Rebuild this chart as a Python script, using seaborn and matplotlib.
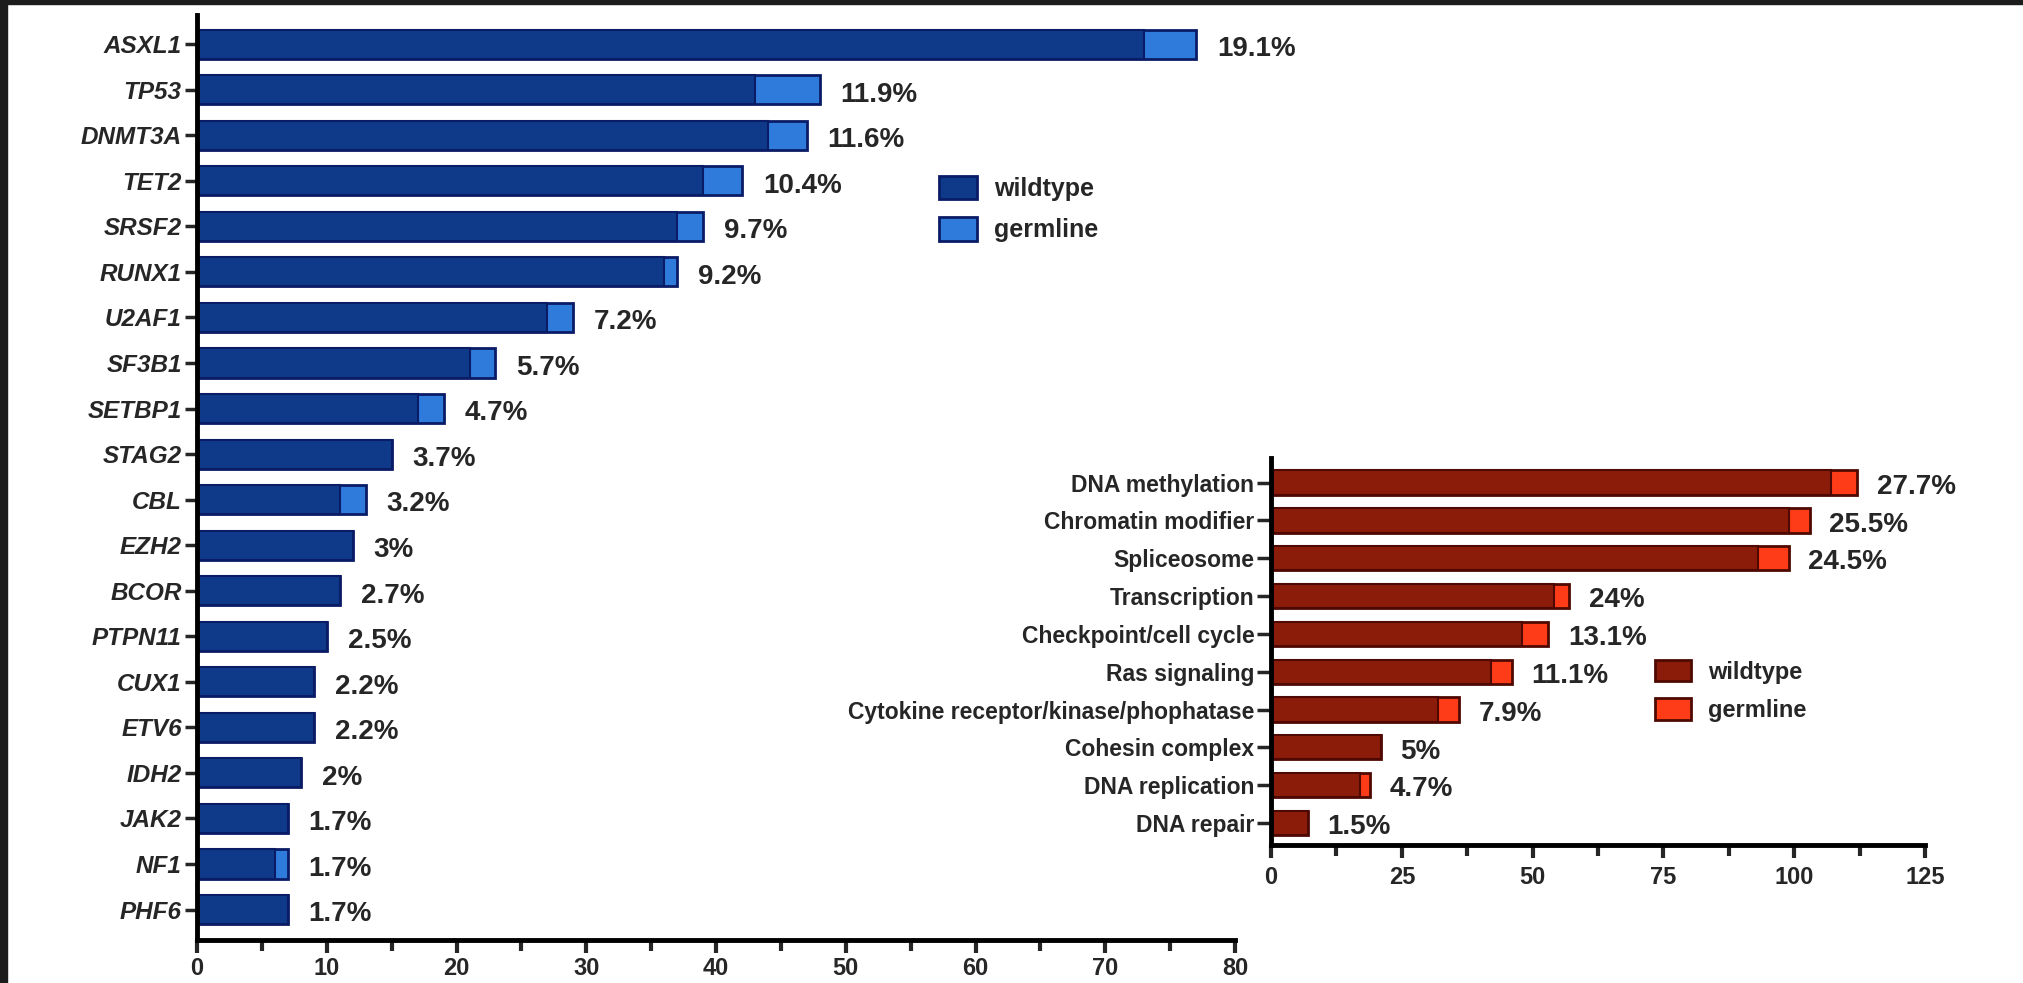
import pandas as pd
import matplotlib.pyplot as plt
import seaborn as sns
from matplotlib.patches import Patch, Rectangle
from matplotlib.ticker import MultipleLocator

sns.set_style("ticks")
plt.rcParams['font.family'] = ['Liberation Sans', 'DejaVu Sans']
plt.rcParams['font.weight'] = 'bold'

# ===== data: genes =====
genes = ['ASXL1', 'TP53', 'DNMT3A', 'TET2', 'SRSF2', 'RUNX1', 'U2AF1', 'SF3B1', 'SETBP1', 'STAG2',
         'CBL', 'EZH2', 'BCOR', 'PTPN11', 'CUX1', 'ETV6', 'IDH2', 'JAK2', 'NF1', 'PHF6']
gene_wild = [73, 43, 44, 39, 37, 36, 27, 21, 17, 15, 11, 12, 11, 10, 9, 9, 8, 7, 6, 7]
gene_germ = [4, 5, 3, 3, 2, 1, 2, 2, 2, 0, 2, 0, 0, 0, 0, 0, 0, 0, 1, 0]
gene_pct = ['19.1%', '11.9%', '11.6%', '10.4%', '9.7%', '9.2%', '7.2%', '5.7%', '4.7%', '3.7%',
            '3.2%', '3%', '2.7%', '2.5%', '2.2%', '2.2%', '2%', '1.7%', '1.7%', '1.7%']

# ===== data: pathways =====
pathways = ['DNA methylation', 'Chromatin modifier', 'Spliceosome', 'Transcription',
            'Checkpoint/cell cycle', 'Ras signaling', 'Cytokine receptor/kinase/phophatase',
            'Cohesin complex', 'DNA replication', 'DNA repair']
path_wild = [107, 99, 93, 54, 48, 42, 32, 21, 17, 7]
path_germ = [5, 4, 6, 3, 5, 4, 4, 0, 2, 0]
path_pct = ['27.7%', '25.5%', '24.5%', '24%', '13.1%', '11.1%', '7.9%', '5%', '4.7%', '1.5%']

BLUE_WT, BLUE_GL, BLUE_EDGE = '#0f3a8a', '#2f7bdc', '#0a1c66'
RED_WT, RED_GL, RED_EDGE = '#8c1c0a', '#ff3c18', '#4e0a02'

df_gene = pd.DataFrame({'gene': genes, 'wild': gene_wild,
                        'total': [w + g for w, g in zip(gene_wild, gene_germ)]})
df_path = pd.DataFrame({'path': pathways, 'wild': path_wild,
                        'total': [w + g for w, g in zip(path_wild, path_germ)]})

fig = plt.figure(figsize=(20.23, 9.83), dpi=100)
ax1 = fig.add_axes([0.0974, 0.0437, 0.5131, 0.941])
ax2 = fig.add_axes([0.6283, 0.1404, 0.3233, 0.3937])


def stacked(ax, df, cat, wt, gl, edge):
    sns.barplot(data=df, x='total', y=cat, color=gl, saturation=1, edgecolor=edge,
                linewidth=2, width=0.64, ax=ax)
    sns.barplot(data=df, x='wild', y=cat, color=wt, saturation=1, edgecolor=edge,
                linewidth=1.5, width=0.64, ax=ax)
    ax.set(xlabel='', ylabel='')
    sns.despine(ax=ax)
    for s in ('left', 'bottom'):
        ax.spines[s].set_linewidth(3.5)
        ax.spines[s].set_color('black')


# ===== 1. gene panel =====
stacked(ax1, df_gene, 'gene', BLUE_WT, BLUE_GL, BLUE_EDGE)
ax1.set_xlim(0, 80)
ax1.set_ylim(19.67, -0.64)
ax1.set_xticks(range(0, 81, 10))
ax1.xaxis.set_minor_locator(MultipleLocator(5))
ax1.tick_params(axis='x', which='major', length=9, width=3, pad=3, labelsize=17)
ax1.tick_params(axis='x', which='minor', length=8, width=3)
ax1.tick_params(axis='y', length=9, width=2.5, pad=2)
for lab in ax1.get_yticklabels():
    lab.set_fontsize(17.5)
    lab.set_fontstyle('italic')
    lab.set_fontweight('bold')
for i, (t, p) in enumerate(zip(df_gene['total'], gene_pct)):
    ax1.annotate(p, xy=(t, i), xytext=(15, -3.5), textcoords='offset points',
                 va='center', ha='left', fontsize=20, fontweight='bold')

# ===== 2. pathway panel =====
stacked(ax2, df_path, 'path', RED_WT, RED_GL, RED_EDGE)
ax2.set_xlim(0, 125)
ax2.set_ylim(9.58, -0.65)
ax2.set_xticks(range(0, 126, 25))
ax2.xaxis.set_minor_locator(MultipleLocator(12.5))
ax2.tick_params(axis='x', which='major', length=9, width=3, pad=6, labelsize=17)
ax2.tick_params(axis='x', which='minor', length=8, width=3)
ax2.tick_params(axis='y', length=10, width=2.5, pad=2, labelsize=16.5)
for i, (t, p) in enumerate(zip(df_path['total'], path_pct)):
    ax2.annotate(p, xy=(t, i), xytext=(14, -3), textcoords='offset points',
                 va='center', ha='left', fontsize=20, fontweight='bold')

# ===== legends =====
h1 = [Patch(facecolor=BLUE_WT, edgecolor=BLUE_EDGE, linewidth=2, label='wildtype'),
      Patch(facecolor=BLUE_GL, edgecolor=BLUE_EDGE, linewidth=2, label='germline')]
fig.legend(handles=h1, loc='upper left', bbox_to_anchor=(0.4642, 0.821), frameon=False,
           fontsize=18, handlelength=1.5, handleheight=1.05, handletextpad=0.7,
           labelspacing=0.65, borderpad=0, borderaxespad=0)
h2 = [Patch(facecolor=RED_WT, edgecolor=RED_EDGE, linewidth=2, label='wildtype'),
      Patch(facecolor=RED_GL, edgecolor=RED_EDGE, linewidth=2, label='germline')]
fig.legend(handles=h2, loc='upper left', bbox_to_anchor=(0.818, 0.329), frameon=False,
           fontsize=17, handlelength=1.55, handleheight=1.05, handletextpad=0.7,
           labelspacing=0.6, borderpad=0, borderaxespad=0)

# dark frame at top/left edge of the screenshot
fig.patches.append(Rectangle((0, 0), 7 / 2023, 1, transform=fig.transFigure,
                             color='#1c1c1c', zorder=10))
fig.patches.append(Rectangle((0, 1 - 4 / 983), 1, 4 / 983, transform=fig.transFigure,
                             color='#1c1c1c', zorder=10))

plt.savefig('out.png', dpi=100)
